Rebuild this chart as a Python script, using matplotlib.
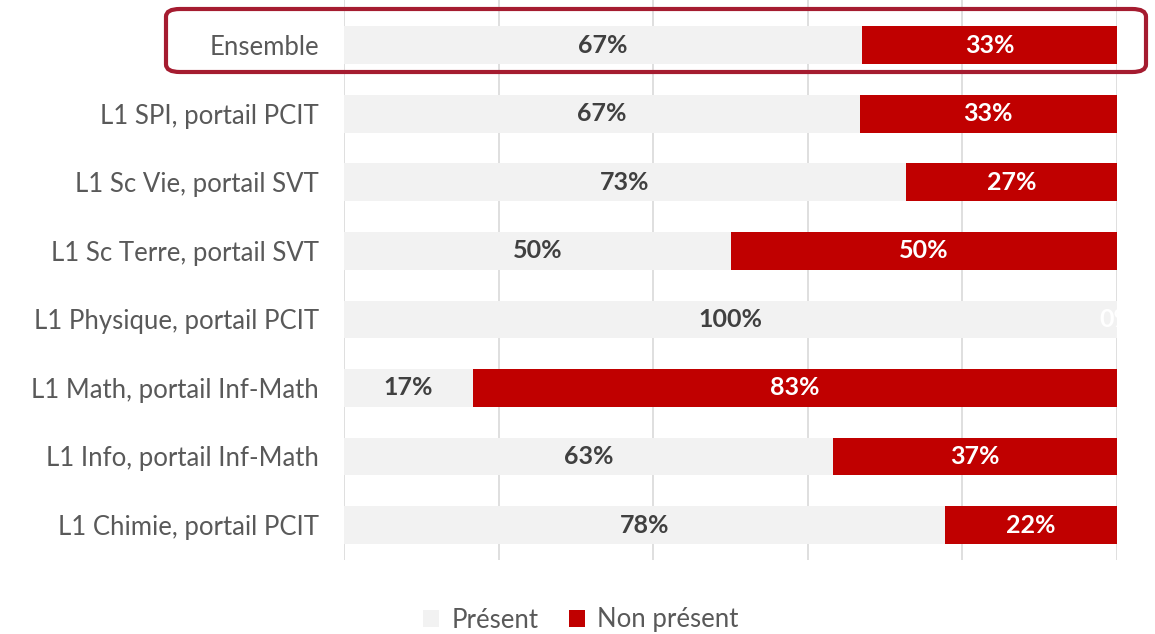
import numpy as np
import matplotlib.pyplot as plt
from matplotlib.patches import FancyBboxPatch

# ---------------- DONNÉES ----------------

categories = [
    "Ensemble",
    "L1 SPI, portail PCIT",
    "L1 Sc Vie, portail SVT",
    "L1 Sc Terre, portail SVT",
    "L1 Physique, portail PCIT",
    "L1 Math, portail Inf-Math",
    "L1 Info, portail Inf-Math",
    "L1 Chimie, portail PCIT",
]
present = [67.0, 66.7, 72.7, 50.0, 100.0, 16.7, 63.2, 77.8]
non_present = [33.0, 33.3, 27.3, 50.0, 0.0, 83.3, 36.8, 22.2]

GREY = "#f2f2f2"
RED = "#c00000"

plt.rcParams["font.family"] = ["Lato", "DejaVu Sans"]

fig = plt.figure(figsize=(11.55, 6.34), dpi=100)
ax = fig.add_axes([344 / 1155, 1 - 560 / 634, (1117 - 344) / 1155, 560 / 634])

y = np.arange(len(categories))
h = 0.55

ax.barh(y, present, height=h, color=GREY, label="Présent", zorder=2)
ax.barh(y, non_present, left=present, height=h, color=RED,
        label="Non présent", zorder=2)

# Étiquettes de valeurs
for i, (p, n) in enumerate(zip(present, non_present)):
    ax.text(p / 2, i, f"{round(p)}%", ha="center", va="center",
            fontsize=18, fontweight="bold", color="#404040", zorder=3)
    ax.text(p + n / 2, i, f"{round(n)}%", ha="center", va="center",
            fontsize=18, fontweight="bold", color="white", zorder=3,
            clip_on=True)

ax.set_xlim(0, 100)
ax.set_ylim(len(categories) - 0.49, -0.66)
ax.set_xticks(np.arange(0, 101, 20))
ax.set_xticklabels([])
ax.tick_params(axis="x", length=0)
ax.grid(axis="x", color="#d9d9d9", linewidth=1.2, zorder=0)

ax.set_yticks(y)
ax.set_yticklabels(categories, fontsize=18.5, color="#595959")
ax.tick_params(axis="y", length=0, pad=18)

for spine in ax.spines.values():
    spine.set_visible(False)

# Cadre arrondi autour de "Ensemble"
box = FancyBboxPatch(
    (166 / 1155, 1 - 72 / 634), (1146 - 166) / 1155, (72 - 9) / 634,
    boxstyle="round,pad=0,rounding_size=0.012",
    transform=fig.transFigure, fill=False,
    edgecolor="#a51c30", linewidth=3, zorder=10,
)
fig.patches.append(box)

fig.legend(
    loc="center", bbox_to_anchor=(581 / 1155, 1 - 620 / 634),
    ncol=2, frameon=False, fontsize=18.5, labelcolor="#595959",
    handlelength=0.6, handleheight=0.6, handletextpad=0.5,
    columnspacing=1.2,
)

fig.savefig("out.png", dpi=100)
